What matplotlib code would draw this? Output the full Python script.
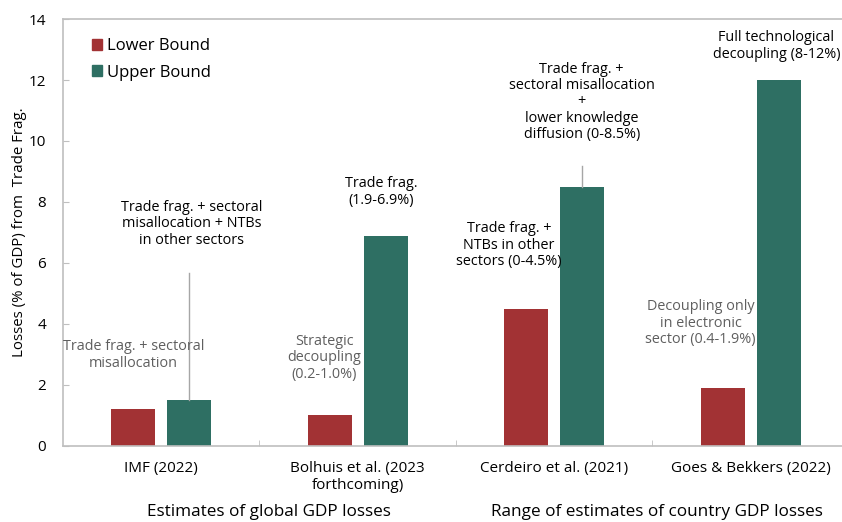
import matplotlib
matplotlib.use("Agg")
import matplotlib.pyplot as plt
import numpy as np
from matplotlib.patches import Patch

plt.rcParams['font.family'] = ['Open Sans', 'DejaVu Sans']

# Estimates of GDP losses from trade fragmentation (% of GDP)
studies = ['IMF (2022)', 'Bolhuis et al. (2023\nforthcoming)',
           'Cerdeiro et al. (2021)', 'Goes & Bekkers (2022)']
lower_bound = [1.2, 1.0, 4.5, 1.9]
upper_bound = [1.5, 6.9, 8.5, 12.0]

groups = ['Estimates of global GDP losses', 'Range of estimates of country GDP losses']

RED = '#A23234'
GREEN = '#2E6F63'
GRAY_TXT = '#5F5F5F'
SPINE = '#BFBFBF'

fig = plt.figure(figsize=(8.42, 5.22), dpi=100)
ax = fig.add_axes([0.0748, 0.1456, 0.9335, 0.818])

x = np.arange(len(studies))
w = 0.225
off = 0.142
ax.bar(x - off, lower_bound, w, color=RED, label='Lower Bound')
ax.bar(x + off, upper_bound, w, color=GREEN, label='Upper Bound')

ax.set_xlim(-0.5, 3.5)
ax.set_ylim(0, 14)
ax.set_yticks(range(0, 15, 2))
ax.set_xticks(x)
ax.set_xticklabels(studies, fontsize=11)
ax.set_xticks([0.5, 1.5, 2.5], minor=True)
ax.tick_params(axis='x', which='major', length=0, pad=11)
ax.tick_params(axis='x', which='minor', direction='in', length=4, color=SPINE)
ax.tick_params(axis='y', direction='in', length=4, color=SPINE, labelsize=11, pad=12)

for side in ['left', 'top', 'bottom']:
    ax.spines[side].set_color(SPINE)
    ax.spines[side].set_linewidth(1.2)
ax.spines['right'].set_visible(False)

ax.set_ylabel('Losses (% of GDP) from  Trade Frag.', fontsize=10.8, labelpad=1)

# leader lines from bars up to their notes
ax.plot([0 + off, 0 + off], [upper_bound[0], 5.67], color='#A6A6A6', lw=1)
ax.plot([2 + off, 2 + off], [upper_bound[2], 9.18], color='#A6A6A6', lw=1)

notes = [
    (0.156, 7.28, 'Trade frag. + sectoral\nmisallocation + NTBs\nin other sectors', 'black'),
    (-0.14, 2.98, 'Trade frag. + sectoral\nmisallocation', GRAY_TXT),
    (1.12, 8.33, 'Trade frag.\n(1.9-6.9%)', 'black'),
    (0.83, 2.89, 'Strategic\ndecoupling\n(0.2-1.0%)', GRAY_TXT),
    (2.14, 11.28, 'Trade frag. +\nsectoral misallocation\n+\nlower knowledge\ndiffusion (0-8.5%)', 'black'),
    (1.77, 6.59, 'Trade frag. +\nNTBs in other\nsectors (0-4.5%)', 'black'),
    (3.13, 13.11, 'Full technological\ndecoupling (8-12%)', 'black'),
    (2.745, 4.03, 'Decoupling only\nin electronic\nsector (0.4-1.9%)', GRAY_TXT),
]
for nx, ny, txt, col in notes:
    ax.text(nx, ny, txt, ha='center', va='center', fontsize=10.4, color=col,
            linespacing=1.12)

handles = [Patch(color=RED, label='Lower Bound'), Patch(color=GREEN, label='Upper Bound')]
ax.legend(handles=handles, loc='upper left', bbox_to_anchor=(0.018, 0.99),
          frameon=False, fontsize=12, handlelength=0.6, handleheight=0.6,
          handletextpad=0.3, labelspacing=0.62)

fig.text(269 / 842, 1 - 512 / 522, groups[0], ha='center', va='center', fontsize=12.3)
fig.text(657 / 842, 1 - 512 / 522, groups[1], ha='center', va='center', fontsize=12.3)

fig.savefig('out.png', dpi=100)
